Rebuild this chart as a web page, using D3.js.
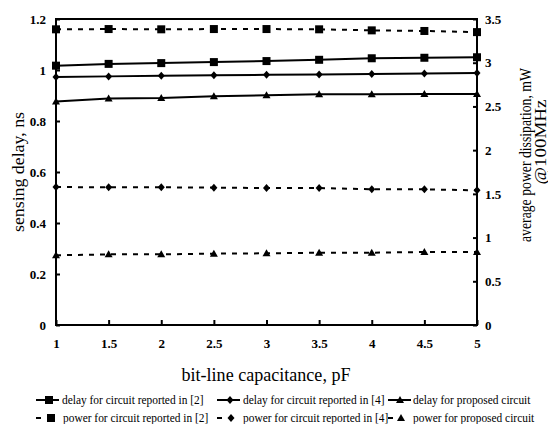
<!DOCTYPE html>
<html>
<head>
<meta charset="utf-8">
<script src="https://cdn.jsdelivr.net/npm/d3@7"></script>
<style>
  body { margin: 0; background: #fff; }
  svg { display: block; }
  .tick-lbl { font-family: "Liberation Serif", serif; font-weight: bold; font-size: 13px; }
  .title { font-family: "Liberation Serif", serif; }
  .leg { font-family: "Liberation Serif", serif; font-size: 12px; }
</style>
</head>
<body>
<div id="chart"></div>
<script>
// bit-line capacitance, pF
var capacitance = [1, 1.5, 2, 2.5, 3, 3.5, 4, 4.5, 5];

// sensing delay, ns (left axis)
var delayRef2 = [1.017, 1.024, 1.027, 1.031, 1.035, 1.040, 1.046, 1.048, 1.050];
var delayRef4 = [0.973, 0.975, 0.977, 0.979, 0.981, 0.982, 0.984, 0.986, 0.988];
var delayProposed = [0.876, 0.888, 0.890, 0.897, 0.901, 0.905, 0.905, 0.906, 0.906];

// average power dissipation, mW @100MHz (right axis)
var powerRef2 = [3.382, 3.385, 3.382, 3.385, 3.385, 3.382, 3.370, 3.363, 3.350];
var powerRef4 = [1.578, 1.575, 1.575, 1.571, 1.567, 1.567, 1.552, 1.552, 1.540];
var powerProposed = [0.797, 0.808, 0.808, 0.816, 0.820, 0.827, 0.827, 0.835, 0.835];

var xTicks = [1, 1.5, 2, 2.5, 3, 3.5, 4, 4.5, 5];
var leftTicks = [0, 0.2, 0.4, 0.6, 0.8, 1, 1.2];
var rightTicks = [0, 0.5, 1, 1.5, 2, 2.5, 3, 3.5];

var seriesNames = [
  "delay for circuit reported in [2]",
  "delay for circuit reported in [4]",
  "delay for proposed circuit",
  "power for circuit reported in [2]",
  "power for circuit reported in [4]",
  "power for proposed circuit"
];

var W = 548, H = 424;
var plotL = 56, plotR = 477, plotT = 19, plotB = 325;

var svg = d3.select("#chart").append("svg")
    .attr("width", W)
    .attr("height", H);

var x = d3.scaleLinear().domain([1, 5]).range([plotL, plotR]);
var yL = d3.scaleLinear().domain([0, 1.2]).range([plotB, plotT]);
var yR = d3.scaleLinear().domain([0, 3.5]).range([plotB, plotT]);

// axes (ticks pointing inwards, labels styled after)
var axL = svg.append("g").attr("transform", "translate(" + plotL + ",0)")
    .call(d3.axisLeft(yL).tickValues(leftTicks).tickSize(-4).tickPadding(10).tickFormat(d3.format("")));
var axR = svg.append("g").attr("transform", "translate(" + plotR + ",0)")
    .call(d3.axisRight(yR).tickValues(rightTicks).tickSize(-4).tickPadding(8).tickFormat(d3.format("")));
var axB = svg.append("g").attr("transform", "translate(0," + plotB + ")")
    .call(d3.axisBottom(x).tickValues(xTicks).tickSize(-5).tickPadding(14).tickFormat(d3.format("")));

[axL, axR, axB].forEach(function(ax){
  ax.select(".domain").remove();
  ax.selectAll(".tick line").attr("stroke", "#000").attr("stroke-width", 2);
  ax.selectAll(".tick text").attr("class", "tick-lbl").attr("fill", "#000");
});

// frame
svg.append("rect")
    .attr("x", plotL).attr("y", plotT)
    .attr("width", plotR - plotL).attr("height", plotB - plotT)
    .attr("fill", "none").attr("stroke", "#000").attr("stroke-width", 2);

// marker shapes
function marker(g, shape, cx, cy){
  if (shape === "square"){
    g.append("rect").attr("x", cx - 4).attr("y", cy - 4)
      .attr("width", 8).attr("height", 8).attr("fill", "#000");
  } else if (shape === "diamond"){
    g.append("path").attr("d", "M" + cx + "," + (cy - 4) + " L" + (cx + 3.5) + "," + cy +
      " L" + cx + "," + (cy + 4) + " L" + (cx - 3.5) + "," + cy + " Z").attr("fill", "#000");
  } else {
    g.append("path").attr("d", "M" + cx + "," + (cy - 4) + " L" + (cx + 4) + "," + (cy + 3) +
      " L" + (cx - 4) + "," + (cy + 3) + " Z").attr("fill", "#000");
  }
}

var series = [
  {name: seriesNames[0], vals: delayRef2, y: yL, shape: "square", dash: null},
  {name: seriesNames[1], vals: delayRef4, y: yL, shape: "diamond", dash: null},
  {name: seriesNames[2], vals: delayProposed, y: yL, shape: "triangle", dash: null},
  {name: seriesNames[3], vals: powerRef2, y: yR, shape: "square", dash: "5,6"},
  {name: seriesNames[4], vals: powerRef4, y: yR, shape: "diamond", dash: "5,6"},
  {name: seriesNames[5], vals: powerProposed, y: yR, shape: "triangle", dash: "5,6"}
];

series.forEach(function(s){
  var line = d3.line()
      .x(function(d, i){ return x(capacitance[i]); })
      .y(function(d){ return s.y(d); });
  svg.append("path").datum(s.vals)
      .attr("d", line)
      .attr("fill", "none").attr("stroke", "#000").attr("stroke-width", 2)
      .attr("stroke-dasharray", s.dash);
  var g = svg.append("g");
  s.vals.forEach(function(v, i){ marker(g, s.shape, x(capacitance[i]), s.y(v)); });
});

// titles
function fitText(t, len){
  t.attr("textLength", len).attr("lengthAdjust", "spacingAndGlyphs");
}
fitText(svg.append("text").attr("class", "title")
    .attr("x", 266).attr("y", 381).attr("text-anchor", "middle")
    .attr("font-size", 19).text("bit-line capacitance, pF"), 169);

fitText(svg.append("text").attr("class", "title")
    .attr("transform", "translate(24,172) rotate(-90)").attr("text-anchor", "middle")
    .attr("font-size", 17).text("sensing delay, ns"), 120);

fitText(svg.append("text").attr("class", "title")
    .attr("transform", "translate(531,155) rotate(-90)").attr("text-anchor", "middle")
    .attr("font-size", 16).text("average power dissipation, mW"), 174);

fitText(svg.append("text").attr("class", "title")
    .attr("transform", "translate(546,142) rotate(-90)").attr("text-anchor", "middle")
    .attr("font-size", 16).text("@100MHz"), 85);

// legend
var legPos = [
  {lx: 36, mx: 49, tx: 62, ty: 400},
  {lx: 217, mx: 230, tx: 243, ty: 400},
  {lx: 388, mx: 400, tx: 413, ty: 400},
  {lx: 36, mx: 51, tx: 63, ty: 418},
  {lx: 217, mx: 231, tx: 243, ty: 418},
  {lx: 388, mx: 401, tx: 413, ty: 418}
];
var leg = svg.append("g");
series.forEach(function(s, i){
  var p = legPos[i];
  var len = s.dash === null ? 23 : 5;
  leg.append("line").attr("x1", p.lx).attr("x2", p.lx + len)
    .attr("y1", p.ty).attr("y2", p.ty).attr("stroke", "#000").attr("stroke-width", 2);
  marker(leg, s.shape, p.mx, p.ty);
  var t = leg.append("text").attr("class", "leg")
      .attr("x", p.tx).attr("y", p.ty + 4).text(s.name);
  fitText(t, t.node().getComputedTextLength() * 0.95);
});
</script>
</body>
</html>
